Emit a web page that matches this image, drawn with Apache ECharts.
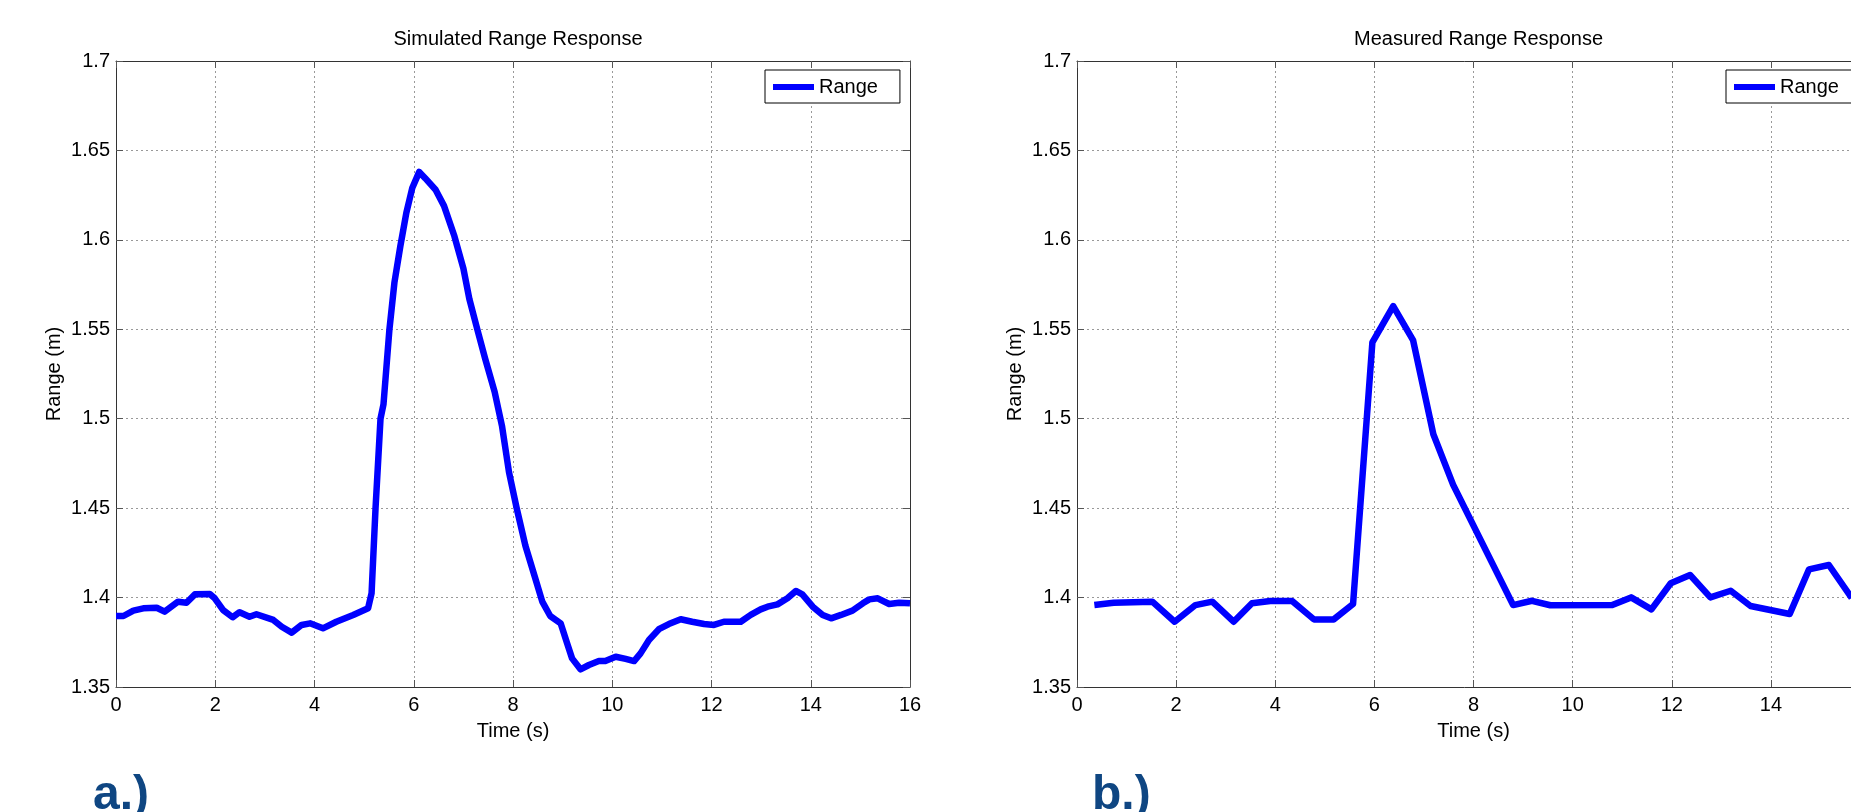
<!DOCTYPE html>
<html>
<head>
<meta charset="utf-8">
<script src="https://cdn.jsdelivr.net/npm/echarts@6/dist/echarts.min.js"></script>
<style>
  html, body { margin: 0; padding: 0; background: #fff; }
  #chart { width: 1851px; height: 812px; }
</style>
</head>
<body>
<div id="chart"></div>
<script>
// simulated response (left panel)
const simTime = [0, 0.15, 0.35, 0.55, 0.82, 0.98, 1.25, 1.42, 1.59, 1.89, 1.99, 2.16, 2.35, 2.49, 2.69, 2.83,
  3.17, 3.34, 3.54, 3.74, 3.91, 4.17, 4.44, 4.78, 5.08, 5.15, 5.23, 5.33, 5.39, 5.51, 5.61, 5.73, 5.85, 5.97,
  6.11, 6.23, 6.44, 6.61, 6.82, 7.0, 7.12, 7.28, 7.44, 7.63, 7.78, 7.92, 8.07, 8.25, 8.43, 8.59, 8.75, 8.96,
  9.09, 9.19, 9.36, 9.53, 9.73, 9.86, 10.07, 10.27, 10.44, 10.57, 10.74, 10.94, 11.14, 11.38, 11.61, 11.85,
  12.05, 12.25, 12.59, 12.79, 12.99, 13.13, 13.33, 13.53, 13.7, 13.83, 14.04, 14.24, 14.41, 14.61, 14.84,
  15.05, 15.18, 15.35, 15.58, 15.78, 16.0];
const simRange = [1.3897, 1.3897, 1.3927, 1.394, 1.3943, 1.3921, 1.3977, 1.3971, 1.4018, 1.402, 1.3996, 1.393,
  1.389, 1.3918, 1.3893, 1.3907, 1.3875, 1.3837, 1.3804, 1.3847, 1.3856, 1.3828, 1.3865, 1.3903, 1.394, 1.4024,
  1.45, 1.50, 1.508, 1.55, 1.576, 1.5965, 1.615, 1.629, 1.638, 1.6345, 1.628, 1.619, 1.602, 1.584, 1.567, 1.55,
  1.5335, 1.515, 1.4957, 1.470, 1.4505, 1.429, 1.4125, 1.3977, 1.3897, 1.3856, 1.3744, 1.366, 1.3599, 1.3623,
  1.3645, 1.3645, 1.3669, 1.3657, 1.3645, 1.3688, 1.3763, 1.3823, 1.3852, 1.3879, 1.3865, 1.3852, 1.3847,
  1.3865, 1.3865, 1.3903, 1.3934, 1.3949, 1.3962, 1.3996, 1.4037, 1.4018, 1.3949, 1.3903, 1.3884, 1.3903,
  1.3927, 1.3968, 1.399, 1.3996, 1.3964, 1.3971, 1.3968];

// measured response (right panel)
const measTime = [0.35, 0.74, 1.52, 1.97, 2.39, 2.73, 3.16, 3.53, 3.90, 4.34, 4.78, 5.18, 5.57, 5.96, 6.38,
  6.78, 7.19, 7.59, 8.80, 9.18, 9.55, 10.8, 11.18, 11.59, 11.98, 12.37, 12.78, 13.19, 13.59, 14.38, 14.77,
  15.17, 15.63];
const measRange = [1.3958, 1.3971, 1.3977, 1.3865, 1.3958, 1.3977, 1.3865, 1.3968, 1.3981, 1.3981, 1.3878,
  1.3878, 1.3964, 1.5427, 1.563, 1.544, 1.4913, 1.463, 1.3958, 1.3982, 1.3957, 1.3958, 1.4001, 1.3934, 1.408,
  1.4126, 1.4001, 1.4038, 1.3953, 1.3908, 1.4158, 1.4182, 1.3998];

const panelTitles = ['Simulated Range Response', 'Measured Range Response'];
const panelLabels = ['a.)', 'b.)'];
const xName = 'Time (s)';
const yName = 'Range (m)';
const seriesName = 'Range';

const FONT = '"Liberation Sans", Arial, Helvetica, sans-serif';
const AXIS_COLOR = '#333';
const TICK_COLOR = '#555';

// plot boxes (px) - the right one runs off the page like in the source figure
const boxes = [
  { left: 116, top: 61, width: 794, height: 626 },
  { left: 1077, top: 61, width: 793, height: 626 }
];

function bottomAxis(g) {
  return {
    gridIndex: g, type: 'value', min: 0, max: 16, interval: 2,
    name: xName, nameLocation: 'middle', nameGap: 34,
    nameTextStyle: { fontSize: 20, color: '#000', fontFamily: FONT },
    axisLine: { show: true, onZero: false, lineStyle: { color: AXIS_COLOR, width: 1 } },
    axisTick: { show: true, inside: true, length: 7, lineStyle: { color: TICK_COLOR } },
    axisLabel: { fontSize: 20, color: '#000', margin: 8, fontFamily: FONT },
    splitLine: { show: true, lineStyle: { color: '#999', type: [2, 3], width: 1 } }
  };
}
function topAxis(g) {
  return {
    gridIndex: g, type: 'value', position: 'top', min: 0, max: 16, interval: 2,
    axisLine: { show: true, onZero: false, lineStyle: { color: AXIS_COLOR, width: 1 } },
    axisTick: { show: true, inside: true, length: 7, lineStyle: { color: TICK_COLOR } },
    axisLabel: { show: false }, splitLine: { show: false }
  };
}
function leftAxis(g) {
  return {
    gridIndex: g, type: 'value', min: 1.35, max: 1.7, interval: 0.05,
    name: yName, nameLocation: 'middle', nameGap: 52,
    nameTextStyle: { fontSize: 20, color: '#000', fontFamily: FONT },
    axisLine: { show: true, onZero: false, lineStyle: { color: AXIS_COLOR, width: 1 } },
    axisTick: { show: true, inside: true, length: 7, lineStyle: { color: TICK_COLOR } },
    axisLabel: { fontSize: 20, color: '#000', margin: 6, fontFamily: FONT },
    splitLine: { show: true, lineStyle: { color: '#999', type: [2, 3], width: 1 } }
  };
}
function rightAxis(g) {
  return {
    gridIndex: g, type: 'value', position: 'right', min: 1.35, max: 1.7, interval: 0.05,
    axisLine: { show: true, onZero: false, lineStyle: { color: AXIS_COLOR, width: 1 } },
    axisTick: { show: true, inside: true, length: 7, lineStyle: { color: TICK_COLOR } },
    axisLabel: { show: false }, splitLine: { show: false }
  };
}

function legendAt(left) {
  return {
    left: left, top: 70, data: [seriesName], icon: 'rect',
    itemWidth: 41, itemHeight: 6,
    padding: [7, 22, 6, 8],
    borderColor: '#000', borderWidth: 1, backgroundColor: '#fff',
    textStyle: { fontSize: 20, color: '#000', fontFamily: FONT },
    selectedMode: false
  };
}

const chart = echarts.init(document.getElementById('chart'), null, { renderer: 'canvas' });

const option = {
  animation: false,
  backgroundColor: '#fff',
  textStyle: { fontFamily: FONT },
  title: boxes.map((b, i) => ({
    text: panelTitles[i],
    left: b.left + b.width / 2,
    top: 24,
    textAlign: 'center',
    textStyle: { fontSize: 20, fontWeight: 'normal', color: '#000', fontFamily: FONT }
  })),
  legend: [legendAt(765), legendAt(1726)],
  grid: boxes.map(b => ({
    left: b.left, top: b.top, width: b.width, height: b.height,
    containLabel: false, outerBoundsMode: 'none'
  })),
  xAxis: [bottomAxis(0), topAxis(0), bottomAxis(1), topAxis(1)],
  yAxis: [leftAxis(0), rightAxis(0), leftAxis(1), rightAxis(1)],
  series: [
    {
      name: seriesName, type: 'line', xAxisIndex: 0, yAxisIndex: 0,
      data: simTime.map((t, i) => [t, simRange[i]]),
      symbol: 'none', showSymbol: false,
      lineStyle: { color: '#0000ff', width: 6.5, join: 'round' },
      itemStyle: { color: '#0000ff' }
    },
    {
      name: seriesName, type: 'line', xAxisIndex: 2, yAxisIndex: 2,
      data: measTime.map((t, i) => [t, measRange[i]]),
      symbol: 'none', showSymbol: false,
      lineStyle: { color: '#0000ff', width: 6.5, join: 'round' },
      itemStyle: { color: '#0000ff' }
    }
  ],
  graphic: [
    { type: 'text', left: 93, top: 772, style: { text: panelLabels[0], font: 'bold 48px ' + FONT, fill: '#0f4682' } },
    { type: 'text', left: 1092, top: 772, style: { text: panelLabels[1], font: 'bold 48px ' + FONT, fill: '#0f4682' } }
  ]
};

chart.setOption(option);
</script>
</body>
</html>
